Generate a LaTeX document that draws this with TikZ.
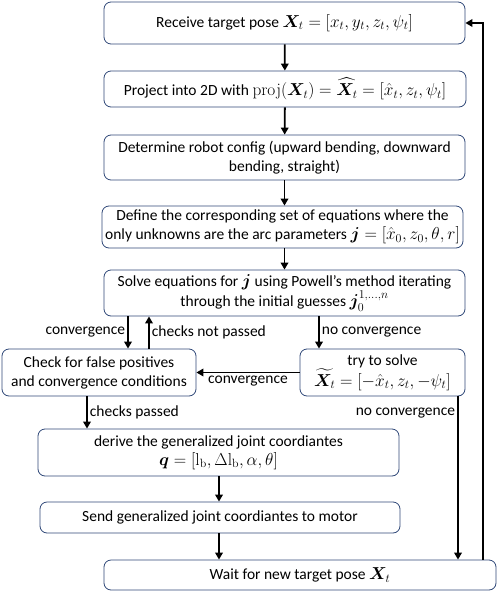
\documentclass[tikz,border=0pt]{standalone}
\usepackage{amsmath,amssymb,bm}
\usepackage[no-math]{fontspec}
\setmainfont{Carlito}
\usepackage{tikz}
\usetikzlibrary{positioning, arrows.meta, calc}
\definecolor{boxline}{RGB}{47,72,120}
\tikzset{
  procbox/.style={
    rectangle, rounded corners=7pt, draw=boxline, line width=0.8pt,
    align=center, inner sep=2pt, font=\fontsize{15.5}{19}\selectfont
  },
  flow/.style={draw, line width=1.8pt, -{Triangle[length=7pt,width=7.5pt]}},
  lbl/.style={font=\fontsize{15.5}{18}\selectfont, inner sep=2pt},
}
\newcommand{\mtxt}[1]{{\fontsize{17}{19}\selectfont$#1$}}
\newcommand{\Xt}{\bm{X}_t}

\begin{document}
\begin{tikzpicture}[x=1pt, y=-1pt]
  \useasboundingbox (0,0) rectangle (498,592);

  \node[procbox, minimum width=361pt, minimum height=42pt] (recv) at (284.5,23)
    {Receive target pose \mtxt{\Xt = [x_t, y_t, z_t, \psi_t]}};
  \node[procbox, minimum width=362pt, minimum height=36pt] (proj) at (285,89)
    {Project into 2D with \mtxt{\mathrm{proj}(\Xt) = \widehat{\bm{X}}_t = [\hat{x}_t, z_t, \psi_t]}};
  \node[procbox, minimum width=361pt, minimum height=45pt] (config) at (284.5,157.5)
    {Determine robot config (upward bending, downward\\bending, straight)};
  \node[procbox, minimum width=361pt, minimum height=42pt] (equs) at (282.5,227)
    {Define the corresponding set of equations where the\\only unknowns are the arc parameters \mtxt{\bm{j} = [\hat{x}_0, z_0, \theta, r]}};
  \node[procbox, minimum width=361pt, minimum height=46pt] (solve) at (284.5,293)
    {Solve equations for \mtxt{\bm{j}} using Powell’s method iterating\\through the initial guesses \mtxt{\bm{j}_0^{1,\dots,n}}};
  \node[procbox, minimum width=194pt, minimum height=47pt] (check) at (99,372.5)
    {Check for false positives\\and convergence conditions};
  \node[procbox, minimum width=165pt, minimum height=47pt] (retry) at (382.5,372.5)
    {try to solve\\\mtxt{\widetilde{\bm{X}}_t = [-\hat{x}_t, z_t, -\psi_t]}};
  \node[procbox, minimum width=361pt, minimum height=47pt] (derive) at (218.5,452.5)
    {derive the generalized joint coordiantes\\\mtxt{\bm{q} = [\mathrm{l_b}, \Delta\mathrm{l_b}, \alpha, \theta]}};
  \node[procbox, minimum width=360pt, minimum height=31pt] (send) at (220,517.5)
    {Send generalized joint coordiantes to motor};
  \node[procbox, minimum width=392pt, minimum height=30pt] (wait) at (300,575)
    {Wait for new target pose \mtxt{\Xt}};

  % main chain
  \draw[flow] (recv) -- (proj);
  \draw[flow] (proj) -- (config);
  \draw[flow] (config.south) -- (config.south |- equs.north);
  \draw[flow] (equs.south -| solve) -- (solve);

  % solver branches
  \draw[flow] (solve.south -| 128,0) -- node[lbl, left] {convergence} (check.north -| 128,0);
  \draw[flow] (check.north -| 149,0) -- node[lbl, right] {checks not passed} (solve.south -| 149,0);
  \draw[flow] (solve.south -| 319,0) -- node[lbl, right] {no convergence} (retry.north -| 319,0);
  \draw[flow] (retry) -- node[lbl, below=1pt] {convergence} (check);
  \draw[flow] (check.south -| 87,0) -- node[lbl, right] {checks passed} (derive.north -| 87,0);
  \draw[flow] (retry.south -| 458,0) -- node[lbl, left, pos=0.1] {no convergence} (wait.north -| 458,0);

  \draw[flow] (derive.south -| 219,0) -- (send.north -| 219,0);
  \draw[flow] (send.south -| 219,0) -- (wait.north -| 219,0);

  % back to start
  \draw[flow] (wait.north -| 483,0) |- (recv.east);
\end{tikzpicture}
\end{document}
